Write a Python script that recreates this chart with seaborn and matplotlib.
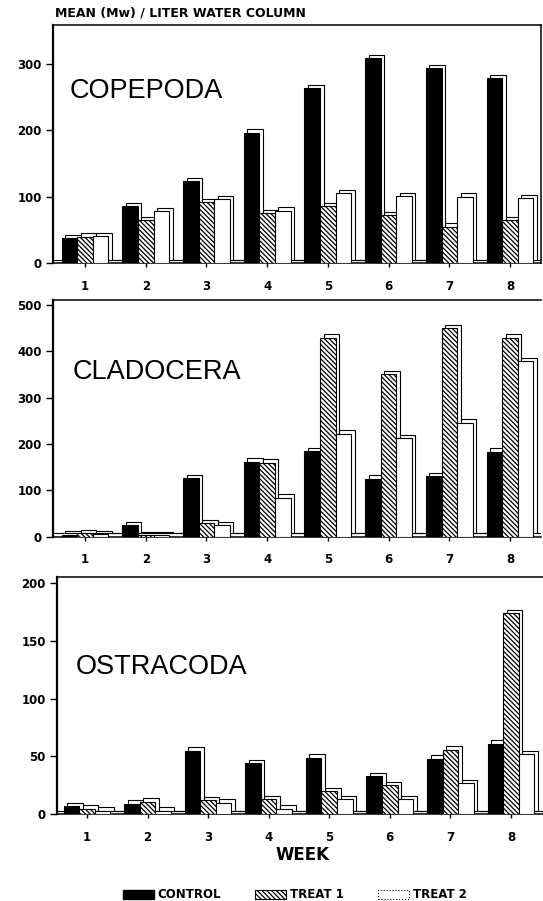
import numpy as np
import pandas as pd
import matplotlib
matplotlib.use("Agg")
import matplotlib.pyplot as plt
import matplotlib.transforms as mtransforms
from matplotlib.patches import Rectangle, Patch
import seaborn as sns

# ---------------- data ----------------
weeks = ["1", "2", "3", "4", "5", "6", "7", "8"]
treatments = ["CONTROL", "TREAT 1", "TREAT 2"]

copepoda_control = [38, 86, 123, 196, 263, 308, 293, 278]
copepoda_treat1 = [40, 65, 92, 75, 86, 72, 55, 65]
copepoda_treat2 = [41, 78, 96, 79, 105, 101, 100, 98]

cladocera_control = [4, 25, 126, 162, 185, 125, 131, 183]
cladocera_treat1 = [7, 3, 29, 160, 429, 351, 450, 429]
cladocera_treat2 = [5, 3, 25, 84, 222, 213, 246, 379]

ostracoda_control = [7, 9, 55, 44, 49, 33, 48, 61]
ostracoda_treat1 = [5, 11, 12, 13, 20, 25, 56, 174]
ostracoda_treat2 = [3, 3, 10, 5, 13, 13, 27, 52]

panel_names = ["COPEPODA", "CLADOCERA", "OSTRACODA"]
panel_series = [
    (copepoda_control, copepoda_treat1, copepoda_treat2),
    (cladocera_control, cladocera_treat1, cladocera_treat2),
    (ostracoda_control, ostracoda_treat1, ostracoda_treat2),
]
panel_yticks = [[0, 100, 200, 300], [0, 100, 200, 300, 400, 500], [0, 50, 100, 150, 200]]
panel_ylim = [358, 511, 205]

# ---------------- style ----------------
sns.set_style("ticks")
plt.rcParams["font.family"] = ["DejaVu Sans"]
plt.rcParams["font.weight"] = "bold"
plt.rcParams["text.color"] = "black"
plt.rcParams["xtick.color"] = "black"
plt.rcParams["ytick.color"] = "black"
plt.rcParams["xtick.labelcolor"] = "black"
plt.rcParams["ytick.labelcolor"] = "black"
plt.rcParams["axes.labelcolor"] = "black"
plt.rcParams["hatch.color"] = "black"
plt.rcParams["hatch.linewidth"] = 0.9

W, H = 543, 901
fig = plt.figure(figsize=(W / 100, H / 100), dpi=100)

# axes rectangles in pixels (left, right, top, bottom)
rects_px = [(53, 541, 25, 263.3), (53, 541, 300, 536.7), (57, 543, 577.3, 814.3)]
xlims = [(-0.527, 7.51), (-0.527, 7.51), (-0.496, 7.53)]
label_pos = [(0.035, 0.723), (0.041, 0.696), (0.039, 0.621)]

face = {"CONTROL": "black", "TREAT 1": "white", "TREAT 2": "white"}
hatches = {"CONTROL": None, "TREAT 1": "\\\\\\\\\\\\\\", "TREAT 2": None}

shadow = mtransforms.ScaledTranslation(0.035, 0.035, fig.dpi_scale_trans)

for i, (name, series) in enumerate(zip(panel_names, panel_series)):
    l, r, t, b = rects_px[i]
    ax = fig.add_axes([l / W, 1 - b / H, (r - l) / W, (b - t) / H])
    df = pd.DataFrame({
        "week": weeks * 3,
        "treat": np.repeat(treatments, len(weeks)),
        "value": np.concatenate(series),
    })
    sns.barplot(data=df, x="week", y="value", hue="treat", order=weeks,
                hue_order=treatments, palette=face, saturation=1, width=0.77,
                edgecolor="black", linewidth=0.8, legend=False, ax=ax, zorder=3)
    # style bars + 3D-like offset blocks
    for tname, cont in zip(treatments, ax.containers):
        for p in cont.patches:
            p.set_facecolor(face[tname])
            p.set_edgecolor("black")
            if hatches[tname]:
                p.set_hatch(hatches[tname])
            x0, w, h = p.get_x(), p.get_width(), p.get_height()
            sh = Rectangle((x0, 0), w, h, facecolor="white", edgecolor="black",
                           lw=0.8, zorder=2, transform=ax.transData + shadow)
            ax.add_patch(sh)
            if tname == "TREAT 2":
                stub = Rectangle((x0 + w, 0), w * 0.95, 0, facecolor="white",
                                 edgecolor="black", lw=0.8, zorder=2,
                                 transform=ax.transData + shadow)
                ax.add_patch(stub)
            if tname == "CONTROL":
                stub = Rectangle((x0 - w, 0), w * 0.95, 0, facecolor="white",
                                 edgecolor="black", lw=0.8, zorder=2,
                                 transform=ax.transData + shadow)
                ax.add_patch(stub)

    ax.set_xlim(*xlims[i])
    ax.set_ylim(0, panel_ylim[i])
    ax.set_yticks(panel_yticks[i])
    ax.set_xlabel("")
    ax.set_ylabel("")
    ax.tick_params(axis="y", length=5, width=1, pad=3, labelsize=8.5,
                   color="black", labelcolor="black")
    ax.tick_params(axis="x", length=3, width=1, pad=9, labelsize=8.5,
                   color="black", labelcolor="black")
    for s in ["left", "top", "bottom", "right"]:
        ax.spines[s].set_color("black")
        ax.spines[s].set_linewidth(1.1)
    ax.spines["left"].set_linewidth(1.6)
    if i > 0:
        ax.spines["right"].set_visible(False)
    ax.text(label_pos[i][0], label_pos[i][1], name, transform=ax.transAxes,
            ha="left", va="center", fontsize=19.5, fontweight="normal",
            color="black", family=["Liberation Sans", "DejaVu Sans"])

fig.text(55 / W, 1 - 13 / H, "MEAN (Mw) / LITER WATER COLUMN", ha="left",
         va="center", fontsize=9, fontweight="bold", color="black")
fig.text(302 / W, 1 - 855 / H, "WEEK", ha="center", va="center",
         fontsize=12, fontweight="bold", color="black")

handles = [
    Patch(facecolor="black", edgecolor="black"),
    Patch(facecolor="white", edgecolor="black", hatch=hatches["TREAT 1"], lw=0.8),
    Patch(facecolor="white", edgecolor="black", lw=0.8, linestyle=":"),
]
leg = fig.legend(handles, treatments, loc="center", bbox_to_anchor=(295 / W, 1 - 895 / H),
                 ncol=3, frameon=False, prop={"size": 8.5, "weight": "bold"},
                 handlelength=2.6, handleheight=0.7, handletextpad=0.35,
                 columnspacing=2.9, borderaxespad=0, borderpad=0)
for txt in leg.get_texts():
    txt.set_color("black")

fig.savefig("out.png", dpi=100)
